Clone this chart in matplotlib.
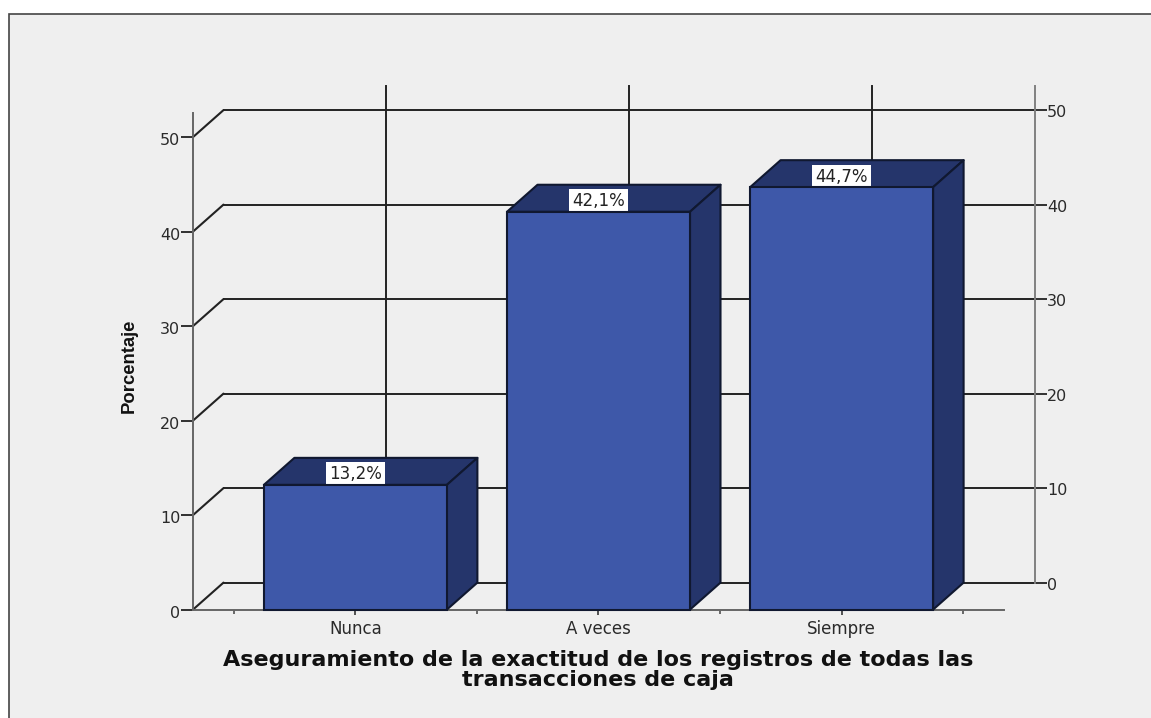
import matplotlib
matplotlib.use("Agg")
import matplotlib.pyplot as plt
from matplotlib.patches import Polygon, Rectangle
from matplotlib.transforms import ScaledTranslation

categories = ["Nunca", "A veces", "Siempre"]
percentages = [13.2, 42.1, 44.7]
percent_labels = ["13,2%", "42,1%", "44,7%"]
y_ticks = [0, 10, 20, 30, 40, 50]
x_label = "Aseguramiento de la exactitud de los registros de todas las\ntransacciones de caja"
y_label = "Porcentaje"

W, H = 1151, 718
PANEL = "#EFEFEF"
FRONT = "#3E58A9"
SIDE = "#25356B"
EDGE = "#101830"
GRID = "#222222"
AXIS = "#666666"
TEXT = "#2A2A2A"

fig = plt.figure(figsize=(W / 100, H / 100), dpi=100, facecolor="white")
fig.add_artist(Rectangle((9 / W, -0.1), 1.2, 0.1 + (H - 14) / H, transform=fig.transFigure,
                         facecolor=PANEL, edgecolor="#444444", linewidth=1.2))


def box(l, r, top, bottom):
    return [l / W, 1 - bottom / H, (r - l) / W, (bottom - top) / H]


# Depth offset of the 3D effect in pixels
DX, DY = 30.5, 27.0
# Front plane
ax = fig.add_axes(box(193, 1004, 113, 609.6))
# Back wall: the front plane shifted by the depth offset
back = fig.add_axes(box(193 + DX, 1004 + DX, 113 - DY, 609.6 - DY))
xlim = (-0.668, 2.668)
ylim = (0, 52.55)
for a in (ax, back):
    a.set_xlim(*xlim)
    a.set_ylim(*ylim)
    a.set_xticks(range(len(categories)))
    a.set_yticks(y_ticks)
back.set_zorder(1)
ax.set_zorder(2)
ax.patch.set_visible(False)
back.patch.set_visible(False)

ddx = DX * (xlim[1] - xlim[0]) / (1004 - 193)
ddy = DY * (ylim[1] - ylim[0]) / (609.6 - 113)

# Back wall
for s in ("top", "left", "bottom"):
    back.spines[s].set_visible(False)
back.spines["right"].set_color("#808080")
back.spines["right"].set_linewidth(1.4)
back.yaxis.tick_right()
back.tick_params(axis="y", length=12 * 0.72, width=1.3, color=GRID, pad=0.5,
                 labelsize=11.5, labelcolor=TEXT)
back.tick_params(axis="x", length=0, labelbottom=False)
back.grid(True, axis="both", color=GRID, linewidth=1.4, clip_on=False)
back.set_axisbelow(True)
for gl in back.get_ygridlines() + back.get_xgridlines():
    gl.set_clip_on(False)

# Front plane
for s in ("top", "right"):
    ax.spines[s].set_visible(False)
for s in ("left", "bottom"):
    ax.spines[s].set_color(AXIS)
    ax.spines[s].set_linewidth(1.4)
ax.tick_params(axis="y", length=12 * 0.72, width=1.3, color=GRID, pad=0.5,
               labelsize=11.5, labelcolor=TEXT)
ax.set_xticks(range(len(categories)))
ax.set_xticklabels(categories)
ax.set_xticks([i - 0.5 for i in range(len(categories) + 1)], minor=True)
ax.tick_params(axis="x", which="major", length=5 * 0.72, width=1.3, color="#444444", pad=4,
               labelsize=12, labelcolor=TEXT)
ax.tick_params(axis="x", which="minor", length=3.5 * 0.72, width=1.1, color="#444444")

# The reference's y tick labels sit slightly below their ticks
for a, drop in ((ax, 2.0), (back, 1.2)):
    for lab in a.get_yticklabels():
        lab.set_transform(lab.get_transform() + ScaledTranslation(0, -drop / 100, fig.dpi_scale_trans))

# Floor and wall connectors
for t in y_ticks:
    ax.plot([xlim[0], xlim[0] + ddx], [t, t + ddy], color=GRID, lw=1.5,
            clip_on=False, zorder=2, solid_capstyle="round")

# 3D bars
half = 183 / 2 / ((1004 - 193) / (xlim[1] - xlim[0]))
for i, v in enumerate(percentages):
    l, r = i - half, i + half
    ax.add_patch(Polygon([(l, v), (r, v), (r + ddx, v + ddy), (l + ddx, v + ddy)],
                         facecolor=SIDE, edgecolor=EDGE, lw=1.5, clip_on=False, zorder=3,
                         joinstyle="round"))
    ax.add_patch(Polygon([(r, 0), (r + ddx, ddy), (r + ddx, v + ddy), (r, v)],
                         facecolor=SIDE, edgecolor=EDGE, lw=1.5, clip_on=False, zorder=3,
                         joinstyle="round"))
    ax.add_patch(Rectangle((l, 0), r - l, v, facecolor=FRONT, edgecolor=EDGE, lw=1.5,
                           clip_on=False, zorder=4))
    ax.annotate(percent_labels[i], (i, v), xytext=(0, 1.0), textcoords="offset points",
                ha="center", va="bottom", fontsize=12, color="#222222", zorder=3.5,
                bbox=dict(boxstyle="square,pad=0.18", facecolor="white", edgecolor="none"))

fig.text(598 / W, 1 - 670 / H, x_label, ha="center", va="center", fontsize=16,
         fontweight="bold", color="#111111", linespacing=1.03)
fig.text(129 / W, 1 - 366 / H, y_label, rotation=90, ha="center", va="center", fontsize=13.3,
         fontweight="bold", color="#111111",
         family=["Liberation Sans Narrow", "Liberation Sans"])

fig.savefig("out.png", dpi=100, facecolor="white")
